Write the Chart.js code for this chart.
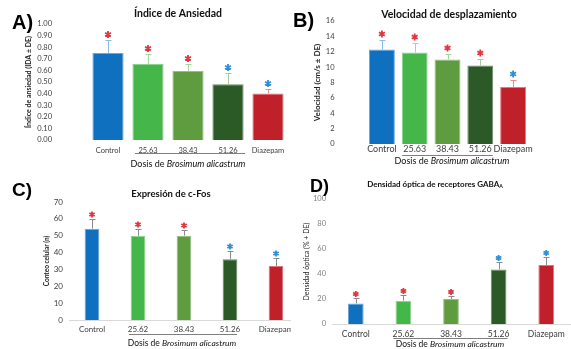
<!DOCTYPE html>
<html><head><meta charset="utf-8">
<script src="https://cdn.jsdelivr.net/npm/chart.js@4/dist/chart.umd.min.js"></script>
<style>
html,body{margin:0;padding:0;background:#fff;}
body{width:571px;height:349px;position:relative;overflow:hidden;}
.p{position:absolute;overflow:hidden;}
canvas{display:block;}
</style></head><body>
<div class="p" style="left:0;top:0;width:290px;height:172px"><canvas id="cA" width="290" height="172"></canvas></div>
<div class="p" style="left:290px;top:0;width:281px;height:172px"><canvas id="cB" width="281" height="172"></canvas></div>
<div class="p" style="left:0;top:172px;width:291px;height:177px"><canvas id="cC" width="300" height="177"></canvas></div>
<div class="p" style="left:291px;top:172px;width:280px;height:177px"><canvas id="cD" width="280" height="177"></canvas></div>
<script>
// ---------- data ----------
const groupsAB = ['Control', '25.63', '38.43', '51.26', 'Diazepam'];
const groupsCD = ['Control', '25.62', '38.43', '51.26', 'Diazepam'];

const anxMean = [0.75, 0.655, 0.595, 0.48, 0.40];
const anxSD   = [0.11, 0.09, 0.06, 0.10, 0.04];
const anxSig  = ['r', 'r', 'r', 'b', 'b'];

const velMean = [12.3, 11.9, 11.0, 10.2, 7.4];
const velSD   = [1.2, 1.3, 0.7, 0.8, 0.9];
const velSig  = ['r', 'r', 'r', 'r', 'b'];

const fosMean = [54.2, 50, 50, 36, 32];
const fosSD   = [6, 4, 3.5, 5, 5];
const fosSig  = ['r', 'r', 'r', 'b', 'b'];

const gabaMean = [16.5, 18.7, 20, 43.7, 47.2];
const gabaSD   = [4.5, 4.5, 2.7, 5.6, 6.1];
const gabaSig  = ['r', 'r', 'r', 'b', 'b'];

// ---------- styles ----------
const FONT = "Lato, 'Open Sans', sans-serif";
const barColors = ['#0E70BE', '#45B649', '#5F9B3F', '#2C5A27', '#C0202A'];
const barBorders = ['#6AA6DA', '#8CD28E', '#96BF80', '#6F8A6B', '#DC7A80'];
const errLight = ['#86BDE6', '#A4D9A2', '#A4D9A2', '#A8C8A0', '#E98C92'];
const errGray = ['#8C8C8C', '#8C8C8C', '#8C8C8C', '#8C8C8C', '#8C8C8C'];
const starCol = { r: '#E3343C', b: '#2E8FD6' };

function drawStar(ctx, x, y, r, color) {
  ctx.strokeStyle = color; ctx.lineWidth = 1.8; ctx.lineCap = 'butt';
  ctx.beginPath();
  for (let k = 0; k < 3; k++) {
    const a = Math.PI / 2 + k * Math.PI / 3;
    ctx.moveTo(x + r * Math.cos(a), y + r * Math.sin(a));
    ctx.lineTo(x - r * Math.cos(a), y - r * Math.sin(a));
  }
  ctx.stroke();
}

const decor = {
  id: 'decor',
  afterDatasetsDraw(chart, args, o) {
    const ctx = chart.ctx, ys = chart.scales.y;
    const meta = chart.getDatasetMeta(0);
    const vals = chart.data.datasets[0].data;
    ctx.save();
    meta.data.forEach((bar, i) => {
      const x = Math.round(bar.x) + 0.5;
      const y0 = ys.getPixelForValue(vals[i]);
      const y1 = Math.round(ys.getPixelForValue(vals[i] + o.sd[i])) + 0.5;
      ctx.strokeStyle = o.errColors[i]; ctx.lineWidth = 1; ctx.lineCap = 'butt';
      ctx.beginPath();
      ctx.moveTo(x, y0); ctx.lineTo(x, y1);
      ctx.moveTo(x - o.cap, y1); ctx.lineTo(x + o.cap, y1);
      ctx.stroke();
      drawStar(ctx, bar.x, y1 - o.starGap, o.starR, starCol[o.sig[i]]);
    });
    ctx.restore();
  },
  afterDraw(chart, args, o) {
    const ctx = chart.ctx, xs = chart.scales.x;
    ctx.save();
    // panel title
    ctx.fillStyle = '#111'; ctx.textBaseline = 'middle'; ctx.textAlign = 'center';
    ctx.font = 'bold ' + o.title.size + 'px ' + FONT;
    if (o.title.sub) {
      const w1 = ctx.measureText(o.title.text).width;
      ctx.font = 'bold ' + (o.title.size * 0.65) + 'px ' + FONT;
      const w2 = ctx.measureText(o.title.sub).width;
      const sx = o.title.x - (w1 + w2) / 2;
      ctx.textAlign = 'left';
      ctx.font = 'bold ' + o.title.size + 'px ' + FONT;
      ctx.fillText(o.title.text, sx, o.title.y);
      ctx.font = 'bold ' + (o.title.size * 0.65) + 'px ' + FONT;
      ctx.fillText(o.title.sub, sx + w1, o.title.y + o.title.size * 0.35);
    } else {
      ctx.fillText(o.title.text, o.title.x, o.title.y);
    }
    // panel letter
    ctx.textAlign = 'left'; ctx.fillStyle = '#000';
    ctx.font = 'bold ' + o.letter.size + "px 'Liberation Sans', Arial, sans-serif";
    ctx.fillText(o.letter.text, o.letter.x, o.letter.y);
    // underline of doses
    const ux1 = xs.getPixelForValue(1) - o.under.k1;
    const ux2 = xs.getPixelForValue(3) + o.under.k2;
    ctx.strokeStyle = '#7F7F7F'; ctx.lineWidth = 1;
    ctx.beginPath(); ctx.moveTo(ux1, o.under.y + 0.5); ctx.lineTo(ux2, o.under.y + 0.5); ctx.stroke();
    // x label with italic species name
    const a = 'Dosis de ', b = 'Brosimum alicastrum';
    ctx.fillStyle = '#111';
    ctx.font = o.xl.size + 'px ' + FONT;
    const wa = ctx.measureText(a).width;
    ctx.font = 'italic ' + o.xl.size + 'px ' + FONT;
    const wb = ctx.measureText(b).width;
    const sx = o.xl.x - (wa + wb) / 2;
    ctx.font = o.xl.size + 'px ' + FONT;
    ctx.fillText(a, sx, o.xl.y);
    ctx.font = 'italic ' + o.xl.size + 'px ' + FONT;
    ctx.fillText(b, sx + wa, o.xl.y);
    ctx.restore();
  }
};

function makeChart(id, cfg) {
  const c = document.getElementById(id);
  return new Chart(c, {
    type: 'bar',
    data: {
      labels: cfg.labels,
      datasets: [{
        data: cfg.data,
        backgroundColor: barColors,
        borderColor: barBorders,
        borderWidth: 1,
        barPercentage: cfg.barPct,
        categoryPercentage: 1
      }]
    },
    options: {
      responsive: false,
      animation: false,
      events: [],
      layout: { padding: { left: 0, top: cfg.area.top, right: cfg.padRight, bottom: cfg.padBottom } },
      plugins: {
        legend: { display: false },
        tooltip: { enabled: false },
        decor: cfg.decor
      },
      scales: {
        x: {
          grid: { display: false, drawTicks: false },
          border: { display: cfg.xBorder, color: '#D9D9D9' },
          ticks: { color: '#404040', font: { family: FONT, size: cfg.xFont }, padding: cfg.xPad, maxRotation: 0, autoSkip: false },
          afterFit(s) { s.height = 20; s.paddingLeft = 0; s.paddingRight = 0; }
        },
        y: {
          min: 0, max: cfg.max,
          grid: { display: false, drawTicks: false },
          border: { display: false },
          ticks: {
            stepSize: cfg.step, color: cfg.yColor, padding: cfg.yPad, autoSkip: false,
            font: { family: FONT, size: cfg.yFont },
            callback: cfg.fmt
          },
          title: {
            display: true, text: cfg.yTitle, color: '#222',
            font: { family: FONT, size: cfg.yTitleSize, weight: cfg.yTitleWeight },
            padding: { top: cfg.yTitlePad, bottom: 0 }
          },
          afterFit(s) { s.width = cfg.area.left; s.paddingTop = 0; s.paddingBottom = 0; }
        }
      }
    },
    plugins: [decor]
  });
}

// A
makeChart('cA', {
  labels: groupsAB, data: anxMean, barPct: 0.78,
  area: { left: 88, top: 24 }, padRight: 2, padBottom: 12,
  max: 1, step: 0.1, fmt: v => v.toFixed(2),
  xFont: 7.5, xPad: 6, xBorder: false,
  yFont: 7.5, yPad: 36, yColor: '#404040',
  yTitle: 'Índice de ansiedad (IDA ± DE)', yTitleSize: 7, yTitleWeight: 'bold', yTitlePad: 25,
  decor: {
    sd: anxSD, sig: anxSig, errColors: errLight, cap: 3, starGap: 6, starR: 3.4,
    title: { text: 'Índice de Ansiedad', x: 178, y: 14, size: 10.5 },
    letter: { text: 'A)', x: 12, y: 23, size: 20 },
    under: { y: 153, k1: 13, k2: 17 },
    xl: { x: 188, y: 164, size: 9 }
  }
});

// B
makeChart('cB', {
  labels: groupsAB, data: velMean, barPct: 0.79,
  area: { left: 75.5, top: 21 }, padRight: 41.5, padBottom: 8,
  max: 16, step: 2, fmt: v => v,
  xFont: 9, xPad: 0, xBorder: false,
  yFont: 7.5, yPad: 31, yColor: '#404040',
  yTitle: 'Velocidad (cm/s ± DE)', yTitleSize: 8, yTitleWeight: 'bold', yTitlePad: 23,
  decor: {
    sd: velSD, sig: velSig, errColors: errLight, cap: 3, starGap: 6.5, starR: 3.4,
    title: { text: 'Velocidad de desplazamiento', x: 159, y: 15, size: 10.5 },
    letter: { text: 'B)', x: 3, y: 21, size: 20 },
    under: { y: 155, k1: 12.5, k2: 12.5 },
    xl: { x: 162, y: 161, size: 9 }
  }
});

// C
makeChart('cC', {
  labels: groupsCD, data: fosMean, barPct: 0.32,
  area: { left: 69, top: 30 }, padRight: 1, padBottom: 9,
  max: 70, step: 10, fmt: v => v,
  xFont: 8, xPad: 5, xBorder: true,
  yFont: 8, yPad: 6, yColor: '#404040',
  yTitle: 'Conteo celular (n)', yTitleSize: 6.5, yTitleWeight: 'bold', yTitlePad: 43,
  decor: {
    sd: fosSD, sig: fosSig, errColors: errGray, cap: 3, starGap: 5, starR: 3.1,
    title: { text: 'Expresión de c-Fos', x: 171, y: 22, size: 9.5 },
    letter: { text: 'C)', x: 12, y: 19, size: 19 },
    under: { y: 162, k1: 9, k2: 7 },
    xl: { x: 182, y: 171, size: 8.5 }
  }
});

// D
makeChart('cD', {
  labels: groupsCD, data: gabaMean, barPct: 0.33,
  area: { left: 41, top: 27 }, padRight: 1, padBottom: 5,
  max: 100, step: 20, fmt: v => v,
  xFont: 8.5, xPad: 5, xBorder: true,
  yFont: 7.5, yPad: 6, yColor: '#7F7F7F',
  yTitle: 'Densidad óptica (% + DE)', yTitleSize: 7, yTitleWeight: 'normal', yTitlePad: 12,
  decor: {
    sd: gabaSD, sig: gabaSig, errColors: errGray, cap: 3, starGap: 4.5, starR: 3.1,
    title: { text: 'Densidad óptica de receptores GABA', sub: 'A', x: 144, y: 12, size: 8 },
    letter: { text: 'D)', x: 19, y: 15, size: 18 },
    under: { y: 166, k1: 10, k2: 9 },
    xl: { x: 159, y: 172, size: 8.5 }
  }
});
</script>
</body></html>
